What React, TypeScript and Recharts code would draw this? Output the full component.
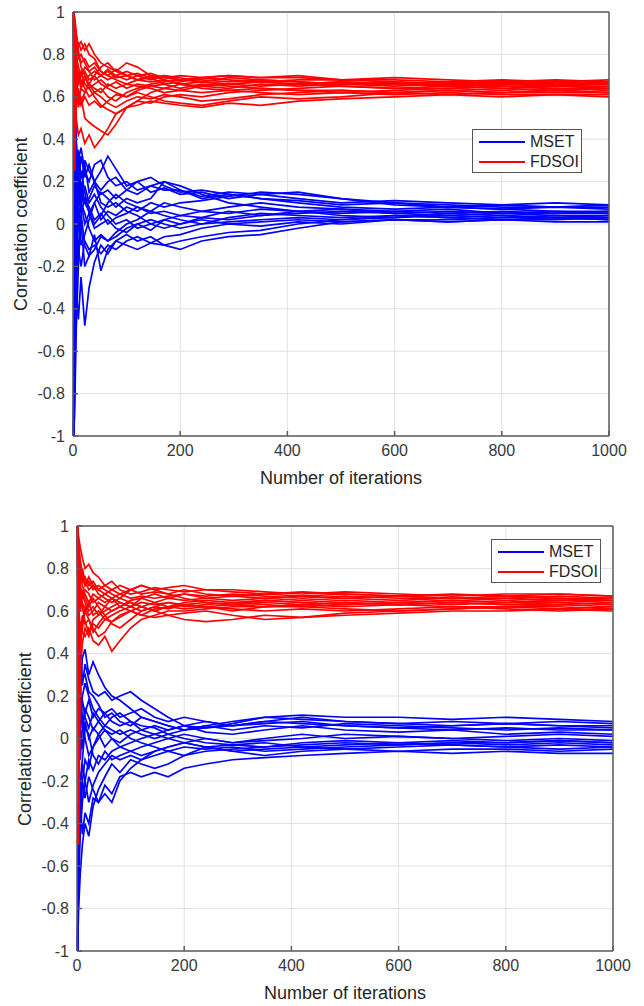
import React from 'react';
import {
  LineChart,
  Line,
  XAxis,
  YAxis,
  CartesianGrid,
} from 'recharts';

// iteration numbers where each run was sampled
const ITERATIONS = [1, 3, 6, 10, 15, 22, 30, 40, 52, 65, 80, 100, 120, 145, 170, 200, 240, 290, 350, 420, 500, 600, 700, 800, 900, 1000];

const X_TICKS = [0, 200, 400, 600, 800, 1000];
const Y_TICKS = [-1, -0.8, -0.6, -0.4, -0.2, 0, 0.2, 0.4, 0.6, 0.8, 1];

// top panel, MSET runs
const MSET_A = [
  [-1, -0.6, 0.1, 0.3, 0.36, 0.25, 0.2, 0.28, 0.3, 0.22, 0.18, 0.2, 0.16, 0.18, 0.2, 0.16, 0.12, 0.14, 0.12, 0.1, 0.08, 0.07, 0.08, 0.07, 0.08, 0.07],
  [1, 0.2, -0.3, -0.45, -0.25, -0.48, -0.3, -0.18, -0.1, -0.14, -0.08, -0.05, -0.08, -0.06, -0.1, -0.08, -0.06, -0.04, -0.03, 0.0, 0.02, 0.03, 0.04, 0.03, 0.04, 0.03],
  [-1, -0.9, -0.5, -0.2, 0.05, -0.1, -0.15, -0.05, -0.22, -0.12, -0.08, -0.1, -0.12, -0.09, -0.1, -0.12, -0.08, -0.06, -0.05, -0.02, 0.01, 0.02, 0.02, 0.03, 0.03, 0.04],
  [1, 0.5, 0.2, 0.35, 0.22, 0.28, 0.15, 0.2, 0.25, 0.32, 0.26, 0.18, 0.2, 0.15, 0.17, 0.14, 0.15, 0.12, 0.14, 0.12, 0.1, 0.11, 0.1, 0.09, 0.1, 0.09],
  [-1, -0.7, -0.2, 0.1, 0.25, 0.15, 0.05, 0.1, 0.02, 0.06, 0.04, 0.08, 0.06, 0.1, 0.08, 0.1, 0.11, 0.13, 0.15, 0.14, 0.12, 0.09, 0.08, 0.07, 0.06, 0.06],
  [1, 0.6, 0.35, 0.15, 0.05, 0.12, 0.08, 0.02, 0.05, 0.0, 0.03, 0.05, 0.08, 0.05, 0.06, 0.04, 0.06, 0.05, 0.07, 0.06, 0.05, 0.06, 0.05, 0.06, 0.05, 0.06],
  [-1, -0.4, 0.2, 0.05, -0.1, -0.05, 0.02, 0.1, 0.15, 0.12, 0.08, 0.12, 0.1, 0.12, 0.2, 0.18, 0.14, 0.1, 0.08, 0.06, 0.04, 0.03, 0.05, 0.04, 0.03, 0.02],
  [1, -0.1, 0.3, 0.2, 0.1, 0.05, -0.02, -0.08, -0.05, -0.08, -0.06, -0.02, 0.0, -0.03, 0.02, 0.0, 0.03, 0.02, 0.04, 0.05, 0.06, 0.05, 0.04, 0.05, 0.06, 0.05],
  [-1, -0.8, -0.3, -0.1, 0.0, -0.2, -0.15, -0.12, -0.06, -0.08, -0.04, 0.0, 0.02, 0.06, 0.04, 0.02, 0.0, 0.01, 0.02, 0.03, 0.02, 0.04, 0.03, 0.02, 0.02, 0.03],
  [1, 0.4, 0.1, 0.22, 0.18, 0.1, 0.12, 0.18, 0.14, 0.16, 0.12, 0.16, 0.14, 0.18, 0.16, 0.16, 0.13, 0.15, 0.14, 0.15, 0.12, 0.1, 0.09, 0.08, 0.08, 0.08],
  [-1, 0.3, -0.1, 0.15, 0.08, 0.18, 0.1, 0.14, 0.08, 0.04, 0.0, 0.02, -0.02, 0.0, 0.02, 0.04, 0.03, 0.06, 0.04, 0.06, 0.07, 0.06, 0.07, 0.05, 0.04, 0.04],
  [1, 0.1, -0.2, 0.0, 0.12, 0.3, 0.25, 0.2, 0.1, 0.08, 0.1, 0.06, 0.04, 0.0, -0.02, 0.0, 0.02, 0.0, 0.01, 0.02, 0.01, 0.02, 0.01, 0.02, 0.01, 0.01],
  [-1, -0.5, 0.1, 0.2, 0.32, 0.22, 0.28, 0.2, 0.16, 0.2, 0.22, 0.16, 0.2, 0.22, 0.18, 0.15, 0.16, 0.14, 0.12, 0.11, 0.09, 0.1, 0.08, 0.09, 0.08, 0.09],
  [1, 0.3, 0.0, -0.12, -0.2, -0.08, -0.12, -0.1, -0.14, -0.1, -0.12, -0.08, -0.06, -0.09, -0.06, -0.05, -0.02, 0.0, -0.01, 0.01, 0.0, 0.02, 0.01, 0.02, 0.03, 0.02],
  [-1, -0.2, 0.25, 0.12, 0.2, 0.1, 0.06, 0.0, 0.04, 0.1, 0.14, 0.1, 0.08, 0.06, 0.1, 0.08, 0.06, 0.08, 0.1, 0.08, 0.07, 0.05, 0.06, 0.05, 0.05, 0.05],
  [1, 0.7, 0.4, 0.25, 0.1, 0.0, 0.05, -0.02, 0.0, 0.02, -0.02, -0.04, 0.0, 0.02, 0.0, -0.02, 0.0, 0.03, 0.05, 0.04, 0.03, 0.04, 0.03, 0.04, 0.03, 0.03],
];

// top panel, FDSOI runs
const FDSOI_A = [
  [1, 0.95, 0.88, 0.84, 0.86, 0.82, 0.85, 0.8, 0.76, 0.74, 0.72, 0.76, 0.74, 0.7, 0.69, 0.68, 0.68, 0.67, 0.68, 0.67, 0.66, 0.67, 0.66, 0.66, 0.67, 0.66],
  [1, 0.9, 0.8, 0.86, 0.82, 0.85, 0.8, 0.78, 0.72, 0.7, 0.73, 0.7, 0.68, 0.69, 0.66, 0.67, 0.69, 0.68, 0.67, 0.68, 0.68, 0.67, 0.66, 0.67, 0.66, 0.67],
  [1, 0.7, 0.5, 0.42, 0.45, 0.38, 0.42, 0.36, 0.4, 0.45, 0.52, 0.55, 0.58, 0.57, 0.6, 0.61, 0.6, 0.62, 0.63, 0.64, 0.65, 0.64, 0.64, 0.65, 0.64, 0.64],
  [1, 0.25, 0.72, 0.55, 0.6, 0.5, 0.48, 0.46, 0.44, 0.42, 0.47, 0.55, 0.58, 0.62, 0.64, 0.63, 0.65, 0.64, 0.66, 0.65, 0.66, 0.65, 0.66, 0.65, 0.65, 0.65],
  [1, 0.85, 0.75, 0.68, 0.72, 0.66, 0.64, 0.6, 0.56, 0.54, 0.52, 0.55, 0.56, 0.58, 0.57, 0.56, 0.55, 0.57, 0.56, 0.58, 0.59, 0.6, 0.61, 0.6, 0.61, 0.6],
  [1, 0.92, 0.7, 0.66, 0.7, 0.72, 0.68, 0.7, 0.66, 0.64, 0.62, 0.6, 0.62, 0.6, 0.58, 0.57, 0.56, 0.58, 0.6, 0.59, 0.6, 0.62, 0.63, 0.62, 0.62, 0.62],
  [1, 0.65, 0.78, 0.7, 0.64, 0.68, 0.7, 0.72, 0.7, 0.73, 0.7, 0.68, 0.7, 0.71, 0.69, 0.7, 0.69, 0.7, 0.69, 0.7, 0.68, 0.68, 0.67, 0.68, 0.67, 0.68],
  [1, 0.8, 0.62, 0.58, 0.64, 0.62, 0.66, 0.64, 0.62, 0.66, 0.64, 0.66, 0.65, 0.64, 0.62, 0.63, 0.62, 0.63, 0.64, 0.63, 0.63, 0.62, 0.63, 0.62, 0.63, 0.62],
  [1, 0.88, 0.8, 0.74, 0.7, 0.74, 0.72, 0.68, 0.7, 0.68, 0.7, 0.72, 0.7, 0.68, 0.7, 0.69, 0.67, 0.66, 0.67, 0.66, 0.67, 0.66, 0.65, 0.64, 0.65, 0.64],
  [1, 0.35, 0.55, 0.62, 0.56, 0.6, 0.56, 0.58, 0.55, 0.58, 0.61, 0.6, 0.63, 0.65, 0.66, 0.64, 0.66, 0.65, 0.64, 0.63, 0.62, 0.63, 0.64, 0.63, 0.64, 0.63],
  [1, 0.95, 0.9, 0.8, 0.76, 0.78, 0.74, 0.76, 0.72, 0.7, 0.68, 0.66, 0.68, 0.7, 0.68, 0.66, 0.64, 0.63, 0.62, 0.61, 0.62, 0.61, 0.62, 0.61, 0.61, 0.61],
  [1, 0.82, 0.66, 0.72, 0.68, 0.64, 0.6, 0.62, 0.64, 0.6, 0.58, 0.62, 0.64, 0.66, 0.67, 0.68, 0.67, 0.69, 0.68, 0.67, 0.66, 0.66, 0.65, 0.66, 0.66, 0.66],
  [1, 0.9, 0.84, 0.78, 0.8, 0.76, 0.72, 0.74, 0.7, 0.72, 0.69, 0.7, 0.68, 0.67, 0.68, 0.66, 0.67, 0.66, 0.65, 0.66, 0.65, 0.64, 0.65, 0.64, 0.63, 0.64],
  [1, 0.72, 0.6, 0.64, 0.58, 0.62, 0.66, 0.62, 0.6, 0.57, 0.55, 0.58, 0.6, 0.59, 0.61, 0.6, 0.58, 0.59, 0.61, 0.62, 0.63, 0.62, 0.61, 0.62, 0.63, 0.62],
  [1, 0.98, 0.9, 0.82, 0.74, 0.7, 0.66, 0.7, 0.74, 0.76, 0.72, 0.7, 0.71, 0.69, 0.7, 0.68, 0.69, 0.7, 0.69, 0.69, 0.68, 0.69, 0.68, 0.67, 0.68, 0.67],
  [1, 0.5, 0.62, 0.7, 0.66, 0.7, 0.64, 0.66, 0.68, 0.65, 0.67, 0.64, 0.66, 0.65, 0.64, 0.66, 0.65, 0.66, 0.67, 0.66, 0.67, 0.66, 0.67, 0.66, 0.65, 0.66],
];

// bottom panel, MSET runs
const MSET_B = [
  [1, 0.4, 0.2, 0.38, 0.42, 0.3, 0.36, 0.3, 0.24, 0.2, 0.18, 0.14, 0.1, 0.08, 0.06, 0.04, 0.05, 0.06, 0.08, 0.07, 0.06, 0.05, 0.06, 0.07, 0.06, 0.06],
  [-1, -0.8, -0.64, -0.5, -0.4, -0.46, -0.32, -0.24, -0.18, -0.12, -0.16, -0.1, -0.12, -0.14, -0.12, -0.08, -0.06, -0.05, -0.04, -0.03, -0.02, -0.03, -0.02, -0.02, -0.01, -0.02],
  [1, 0.2, 0.3, 0.25, 0.35, 0.28, 0.22, 0.2, 0.22, 0.18, 0.2, 0.22, 0.18, 0.14, 0.1, 0.06, 0.05, 0.07, 0.1, 0.11, 0.1, 0.1, 0.09, 0.1, 0.09, 0.08],
  [-1, -0.5, -0.3, -0.45, -0.35, -0.4, -0.28, -0.3, -0.22, -0.26, -0.18, -0.16, -0.18, -0.16, -0.18, -0.14, -0.12, -0.1, -0.09, -0.08, -0.07, -0.06, -0.07, -0.06, -0.07, -0.07],
  [1, 0.0, 0.15, 0.05, 0.12, 0.18, 0.1, 0.14, 0.12, 0.08, 0.06, 0.08, 0.04, 0.02, 0.04, 0.06, 0.03, 0.02, 0.04, 0.06, 0.04, 0.03, 0.04, 0.02, 0.03, 0.02],
  [-1, -0.6, -0.2, -0.1, 0.05, 0.02, -0.08, -0.12, -0.06, -0.1, -0.08, -0.06, -0.04, -0.02, 0.0, 0.02, 0.0, -0.02, -0.01, 0.0, 0.02, 0.01, 0.0, 0.01, 0.02, 0.01],
  [1, 0.5, 0.1, 0.2, 0.26, 0.2, 0.14, 0.1, 0.06, 0.1, 0.12, 0.08, 0.06, 0.05, 0.02, 0.0, -0.02, -0.03, -0.02, -0.04, -0.03, -0.02, -0.03, -0.04, -0.03, -0.04],
  [-1, -0.3, -0.4, -0.2, -0.28, -0.18, -0.24, -0.3, -0.26, -0.3, -0.2, -0.14, -0.1, -0.08, -0.06, -0.08, -0.04, -0.06, -0.05, -0.04, -0.05, -0.06, -0.05, -0.05, -0.06, -0.05],
  [1, 0.3, 0.05, -0.05, 0.08, 0.0, 0.05, 0.02, -0.04, 0.0, -0.02, 0.02, 0.04, 0.06, 0.04, 0.06, 0.08, 0.06, 0.07, 0.08, 0.06, 0.05, 0.04, 0.05, 0.04, 0.04],
  [-1, -0.2, 0.1, 0.18, 0.1, 0.05, 0.12, 0.08, 0.04, 0.02, 0.04, 0.0, -0.02, -0.04, -0.06, -0.04, -0.05, -0.04, -0.06, -0.05, -0.04, -0.03, -0.02, -0.03, -0.02, -0.03],
  [1, 0.6, 0.25, 0.1, 0.0, -0.08, -0.04, 0.02, 0.06, 0.04, 0.02, 0.04, 0.02, 0.0, 0.02, 0.04, 0.06, 0.08, 0.1, 0.09, 0.08, 0.07, 0.08, 0.07, 0.08, 0.07],
  [-1, -0.7, -0.45, -0.3, -0.2, -0.1, -0.15, -0.08, -0.1, -0.06, -0.04, -0.06, -0.08, -0.06, -0.04, -0.02, -0.04, -0.06, -0.08, -0.06, -0.05, -0.04, -0.03, -0.04, -0.05, -0.04],
  [-1, -0.4, -0.25, -0.12, -0.2, -0.3, -0.22, -0.16, -0.12, -0.08, -0.1, -0.08, -0.1, -0.06, -0.04, -0.02, 0.0, -0.02, 0.0, 0.02, 0.0, 0.01, 0.0, -0.01, 0.0, -0.01],
  [1, 0.3, 0.4, 0.28, 0.3, 0.22, 0.2, 0.16, 0.1, 0.12, 0.08, 0.06, 0.1, 0.08, 0.06, 0.04, 0.06, 0.04, 0.06, 0.05, 0.07, 0.06, 0.05, 0.04, 0.05, 0.04],
  [-1, -0.6, -0.35, -0.2, -0.1, -0.14, -0.04, 0.0, 0.04, 0.0, -0.04, -0.02, 0.0, 0.02, 0.0, -0.02, -0.04, -0.03, -0.04, -0.02, -0.01, -0.02, -0.01, -0.02, -0.01, -0.02],
  [1, 0.1, -0.1, 0.05, 0.14, 0.1, 0.04, 0.08, 0.12, 0.14, 0.1, 0.12, 0.14, 0.1, 0.08, 0.1, 0.08, 0.06, 0.08, 0.1, 0.08, 0.07, 0.06, 0.07, 0.06, 0.05],
];

// bottom panel, FDSOI runs
const FDSOI_B = [
  [1, 0.95, 0.9, 0.85, 0.8, 0.82, 0.78, 0.76, 0.72, 0.7, 0.72, 0.7, 0.72, 0.7, 0.71, 0.72, 0.7, 0.69, 0.68, 0.67, 0.68, 0.67, 0.68, 0.67, 0.68, 0.67],
  [1, 0.1, 0.55, 0.5, 0.48, 0.52, 0.46, 0.44, 0.48, 0.41, 0.46, 0.52, 0.56, 0.58, 0.6, 0.6, 0.61, 0.62, 0.62, 0.63, 0.62, 0.63, 0.62, 0.62, 0.63, 0.62],
  [1, 0.8, 0.68, 0.62, 0.55, 0.5, 0.54, 0.52, 0.56, 0.55, 0.58, 0.6, 0.58, 0.57, 0.58, 0.56, 0.55, 0.56, 0.58, 0.57, 0.58, 0.59, 0.6, 0.6, 0.61, 0.6],
  [1, 0.6, 0.4, 0.55, 0.62, 0.58, 0.6, 0.64, 0.62, 0.66, 0.64, 0.62, 0.66, 0.68, 0.66, 0.68, 0.66, 0.65, 0.66, 0.67, 0.66, 0.65, 0.66, 0.66, 0.65, 0.66],
  [1, 0.88, 0.76, 0.8, 0.74, 0.7, 0.72, 0.68, 0.66, 0.64, 0.66, 0.7, 0.72, 0.7, 0.68, 0.66, 0.64, 0.63, 0.64, 0.63, 0.64, 0.63, 0.64, 0.63, 0.63, 0.64],
  [1, -0.5, 0.3, 0.45, 0.52, 0.48, 0.56, 0.58, 0.62, 0.6, 0.62, 0.64, 0.62, 0.64, 0.66, 0.65, 0.66, 0.67, 0.66, 0.65, 0.66, 0.67, 0.66, 0.66, 0.67, 0.66],
  [1, 0.92, 0.84, 0.78, 0.72, 0.74, 0.7, 0.72, 0.7, 0.68, 0.66, 0.64, 0.62, 0.6, 0.58, 0.59, 0.6, 0.58, 0.56, 0.57, 0.59, 0.6, 0.61, 0.62, 0.61, 0.62],
  [1, 0.75, 0.62, 0.7, 0.66, 0.62, 0.66, 0.62, 0.58, 0.54, 0.52, 0.56, 0.6, 0.62, 0.61, 0.63, 0.64, 0.63, 0.65, 0.64, 0.65, 0.64, 0.65, 0.64, 0.65, 0.64],
  [1, 0.85, 0.8, 0.74, 0.76, 0.72, 0.74, 0.7, 0.72, 0.74, 0.7, 0.68, 0.69, 0.71, 0.7, 0.69, 0.7, 0.7, 0.69, 0.68, 0.69, 0.68, 0.67, 0.68, 0.68, 0.67],
  [1, 0.65, 0.5, 0.58, 0.54, 0.56, 0.52, 0.48, 0.5, 0.55, 0.57, 0.6, 0.58, 0.61, 0.62, 0.61, 0.62, 0.61, 0.6, 0.61, 0.6, 0.61, 0.62, 0.61, 0.6, 0.61],
  [1, 0.9, 0.7, 0.66, 0.7, 0.68, 0.64, 0.66, 0.68, 0.66, 0.68, 0.66, 0.67, 0.66, 0.67, 0.68, 0.67, 0.68, 0.67, 0.66, 0.67, 0.66, 0.66, 0.65, 0.66, 0.65],
  [1, 0.82, 0.72, 0.68, 0.64, 0.6, 0.62, 0.58, 0.6, 0.62, 0.64, 0.62, 0.64, 0.63, 0.64, 0.62, 0.63, 0.64, 0.63, 0.62, 0.63, 0.64, 0.63, 0.64, 0.64, 0.63],
  [1, 0.7, 0.78, 0.72, 0.68, 0.64, 0.68, 0.66, 0.64, 0.66, 0.62, 0.65, 0.66, 0.64, 0.62, 0.64, 0.65, 0.64, 0.65, 0.64, 0.63, 0.64, 0.65, 0.64, 0.65, 0.65],
  [1, 0.55, 0.45, 0.52, 0.6, 0.56, 0.5, 0.54, 0.58, 0.6, 0.62, 0.6, 0.62, 0.6, 0.62, 0.63, 0.62, 0.6, 0.62, 0.62, 0.61, 0.6, 0.61, 0.62, 0.62, 0.61],
  [1, 0.9, 0.82, 0.76, 0.72, 0.76, 0.72, 0.7, 0.68, 0.7, 0.68, 0.7, 0.68, 0.69, 0.68, 0.7, 0.68, 0.67, 0.68, 0.69, 0.68, 0.67, 0.66, 0.67, 0.66, 0.66],
  [1, 0.8, 0.6, 0.64, 0.6, 0.64, 0.58, 0.6, 0.56, 0.58, 0.6, 0.62, 0.6, 0.62, 0.64, 0.63, 0.62, 0.63, 0.62, 0.63, 0.64, 0.63, 0.64, 0.63, 0.64, 0.63],
];

const BLUE = '#0000ff';
const RED = '#ff0000';
const AXIS = '#5c5c5c';
const FONT = '"Liberation Sans", Arial, sans-serif';

type Row = Record<string, number>;

function buildRows(mset: number[][], fdsoi: number[][]): Row[] {
  return ITERATIONS.map((it, i) => {
    const row: Row = { it };
    mset.forEach((run, k) => { row['m' + k] = run[i]; });
    fdsoi.forEach((run, k) => { row['f' + k] = run[i]; });
    return row;
  });
}

interface PanelProps {
  top: number;
  height: number;
  margin: { top: number; right: number; bottom: number; left: number };
  mset: number[][];
  fdsoi: number[][];
  legend: { left: number; top: number };
  xTitleY: number;
  yTitleX: number;
}

const tickStyle = { fontSize: 16, fill: '#383838', fontFamily: FONT };

function Panel({ top, height, margin, mset, fdsoi, legend, xTitleY, yTitleX }: PanelProps) {
  const data = buildRows(mset, fdsoi);
  const plotLeft = margin.left + 40;
  const plotRight = 644 - margin.right - 5;
  const plotTop = margin.top + 5;
  const plotBottom = height - margin.bottom - 30;
  const midX = (plotLeft + plotRight) / 2;
  const midY = (plotTop + plotBottom) / 2;

  return (
    <div style={{ position: 'absolute', left: 0, top, width: 644, height }}>
      <LineChart width={644} height={height} data={data} margin={margin}>
        <CartesianGrid stroke="#e2e2e2" strokeWidth={1} />
        <XAxis
          dataKey="it"
          type="number"
          domain={[0, 1000]}
          ticks={X_TICKS}
          interval={0}
          height={30}
          stroke={AXIS}
          strokeWidth={1.5}
          tickSize={-5}
          tickMargin={14}
          tick={tickStyle}
        />
        <XAxis
          xAxisId="top"
          orientation="top"
          dataKey="it"
          type="number"
          domain={[0, 1000]}
          ticks={X_TICKS}
          interval={0}
          height={5}
          stroke={AXIS}
          strokeWidth={1.5}
          tickSize={-5}
          tick={false}
        />
        <YAxis
          type="number"
          domain={[-1, 1]}
          ticks={Y_TICKS}
          interval={0}
          width={40}
          stroke={AXIS}
          strokeWidth={1.5}
          tickSize={-5}
          tickMargin={13}
          tick={tickStyle}
          tickFormatter={(v: number) => String(v)}
        />
        <YAxis
          yAxisId="right"
          orientation="right"
          type="number"
          domain={[-1, 1]}
          ticks={Y_TICKS}
          interval={0}
          width={5}
          stroke={AXIS}
          strokeWidth={1.5}
          tickSize={-5}
          tick={false}
        />
        {mset.map((_, k) => (
          <Line
            key={'m' + k}
            type="linear"
            dataKey={'m' + k}
            stroke={BLUE}
            strokeWidth={1.7}
            dot={false}
            isAnimationActive={false}
          />
        ))}
        {fdsoi.map((_, k) => (
          <Line
            key={'f' + k}
            type="linear"
            dataKey={'f' + k}
            stroke={RED}
            strokeWidth={1.7}
            dot={false}
            isAnimationActive={false}
          />
        ))}
      </LineChart>

      {/* axis titles */}
      <div
        style={{
          position: 'absolute',
          left: midX - 150,
          top: xTitleY - 11,
          width: 300,
          textAlign: 'center',
          fontFamily: FONT,
          fontSize: 18,
          lineHeight: '22px',
          color: '#262626',
        }}
      >
        Number of iterations
      </div>
      <div
        style={{
          position: 'absolute',
          left: yTitleX - 150,
          top: midY - 11,
          width: 300,
          textAlign: 'center',
          fontFamily: FONT,
          fontSize: 18,
          lineHeight: '22px',
          color: '#262626',
          transform: 'rotate(-90deg)',
        }}
      >
        Correlation coefficient
      </div>

      {/* legend */}
      <div
        style={{
          position: 'absolute',
          left: legend.left,
          top: legend.top,
          width: 108,
          height: 42,
          border: '1.5px solid #555',
          background: '#fff',
          fontFamily: FONT,
          fontSize: 16,
          color: '#262626',
        }}
      >
        {[
          { name: 'MSET', color: BLUE },
          { name: 'FDSOI', color: RED },
        ].map((e, i) => (
          <div key={e.name} style={{ position: 'absolute', left: 6, top: 3 + i * 20, height: 18, display: 'flex', alignItems: 'center' }}>
            <div style={{ width: 46, height: 2, background: e.color }} />
            <span style={{ marginLeft: 5, lineHeight: '18px' }}>{e.name}</span>
          </div>
        ))}
      </div>
    </div>
  );
}

export default function App() {
  return (
    <div style={{ position: 'absolute', left: 0, top: 0, width: 644, height: 1006, background: '#fff' }}>
      <Panel
        top={0}
        height={500}
        margin={{ top: 7, right: 30, bottom: 34, left: 33 }}
        mset={MSET_A}
        fdsoi={FDSOI_A}
        legend={{ left: 472, top: 129 }}
        xTitleY={478}
        yTitleX={21}
      />
      <Panel
        top={500}
        height={506}
        margin={{ top: 21, right: 26, bottom: 25, left: 37 }}
        mset={MSET_B}
        fdsoi={FDSOI_B}
        legend={{ left: 491, top: 39 }}
        xTitleY={493}
        yTitleX={25}
      />
    </div>
  );
}
